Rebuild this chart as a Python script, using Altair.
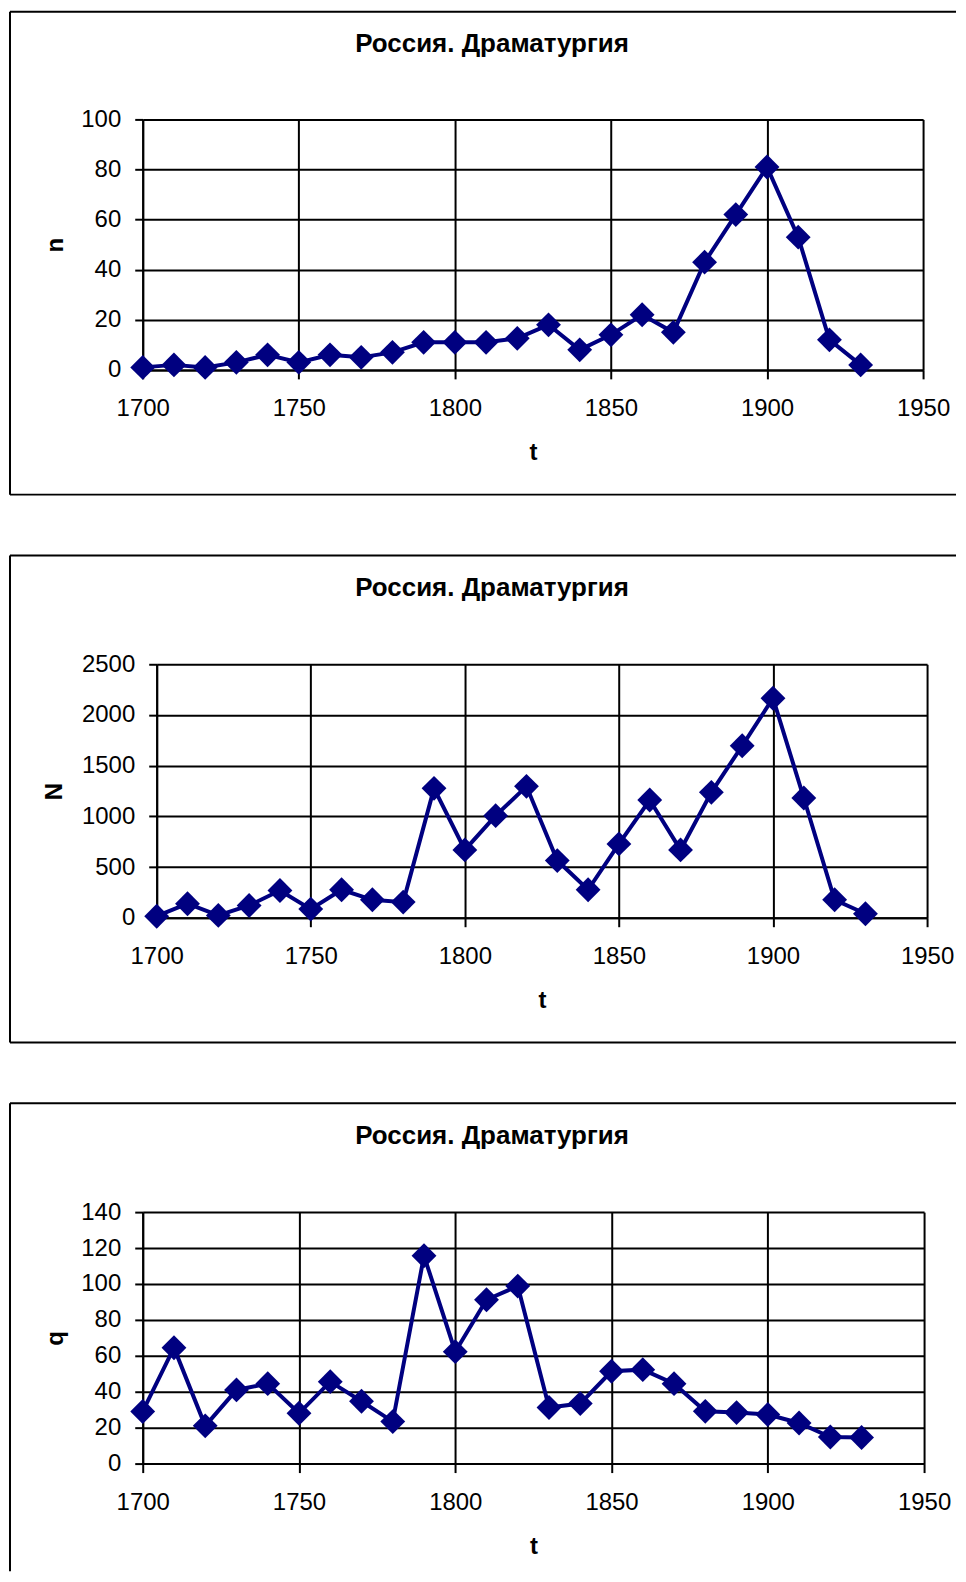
import altair as alt
import pandas as pd

TITLE = "Россия. Драматургия"
years = [1700, 1710, 1720, 1730, 1740, 1750, 1760, 1770, 1780, 1790, 1800, 1810,
         1820, 1830, 1840, 1850, 1860, 1870, 1880, 1890, 1900, 1910, 1920, 1930]
n_vals = [1, 2, 1, 3, 6, 3, 6, 5, 7, 11, 11, 11,
          12.6, 18, 8, 14, 22, 15, 43, 62, 81, 53, 12, 2]
N_vals = [15, 138, 23, 121, 269, 85, 276, 177, 154, 1276, 669, 1007,
          1296, 564, 276, 728, 1161, 669, 1237, 1696, 2165, 1181, 177, 39]
q_vals = [29, 64.5, 21, 41, 44.5, 28, 45.6, 34.7, 23.4, 115.7, 62.3, 91.2,
          98.8, 31.2, 33.4, 51.4, 52.3, 44.5, 29.1, 28.4, 27.3, 22.6, 14.8, 14.5]
x_ticks = [1700, 1750, 1800, 1850, 1900, 1950]
n_ticks = [0, 20, 40, 60, 80, 100]
N_ticks = [0, 500, 1000, 1500, 2000, 2500]
q_ticks = [0, 20, 40, 60, 80, 100, 120, 140]

FONT = "Liberation Sans"
NAVY = "#000080"
one = pd.DataFrame({"title": [TITLE]})


def panel(vals, ylabel, yticks, width, height, xrange, yoffset, ytitle_x,
          box_top, box_bottom, draw_bottom):
    df = pd.DataFrame({"t": years, "v": vals})
    x = alt.X("t:Q",
              scale=alt.Scale(domain=[1700, 1950], range=xrange, nice=False, zero=False),
              axis=alt.Axis(values=x_ticks, format="d", title="t", tickSize=9,
                            labelPadding=37, labelBaseline="alphabetic",
                            labelFlush=False, labelOverlap=False,
                            titleX=(xrange[0] + xrange[1]) / 2, titleY=90,
                            titleBaseline="alphabetic", titleAlign="center"))
    y = alt.Y("v:Q",
              scale=alt.Scale(domain=[yticks[0], yticks[-1]], nice=False, zero=True),
              axis=alt.Axis(values=yticks, format="d", title=ylabel, tickSize=8,
                            labelPadding=14, labelFlush=False, labelOverlap=False,
                            offset=yoffset, titleX=ytitle_x, titleY=height / 2,
                            titleAngle=270, titleAlign="center",
                            titleBaseline="alphabetic"))
    base = alt.Chart(df).encode(x=x, y=y)
    line = base.mark_line(color=NAVY, strokeWidth=4)
    pts = base.mark_point(filled=True, shape="diamond", size=620, color=NAVY, opacity=1)
    title = alt.Chart(one).mark_text(font=FONT, fontSize=26, fontWeight="bold",
                                     align="center", baseline="alphabetic",
                                     color="black").encode(
        text="title:N", x=alt.value(350), y=alt.value(-68))
    left = alt.Chart(one).mark_rule(color="black", strokeWidth=2).encode(
        x=alt.value(-133), y=alt.value(box_top), y2=alt.value(box_bottom))
    top = alt.Chart(one).mark_rule(color="black", strokeWidth=2).encode(
        x=alt.value(-133), x2=alt.value(815), y=alt.value(box_top))
    layers = [left, top, line, pts, title]
    if draw_bottom:
        bottom = alt.Chart(one).mark_rule(color="black", strokeWidth=2).encode(
            x=alt.value(-133), x2=alt.value(815), y=alt.value(box_bottom))
        layers.append(bottom)
    return alt.layer(*layers).properties(width=width, height=height)


p1 = panel(n_vals, "n", n_ticks, 782, 251, [0, 782], 0, -80, -108, 376, True)
p2 = panel(N_vals, "N", N_ticks, 786, 254, [14, 786], -14, -95, -109, 379, True)
p3 = panel(q_vals, "q", q_ticks, 783, 252, [0, 783], 0, -80, -109, 360, False)

chart = alt.vconcat(p1, p2, p3, spacing=57).properties(
    padding=0
).configure_view(stroke="transparent").configure_axis(
    labelFont=FONT, labelFontSize=24, labelColor="black",
    titleFont=FONT, titleFontSize=24, titleFontWeight="bold", titleColor="black",
    domainColor="black", domainWidth=2, tickColor="black", tickWidth=2,
    gridColor="black", gridWidth=2, gridOpacity=1, grid=True
)

chart.save("out.html", embed_options={"renderer": "svg", "actions": False})
